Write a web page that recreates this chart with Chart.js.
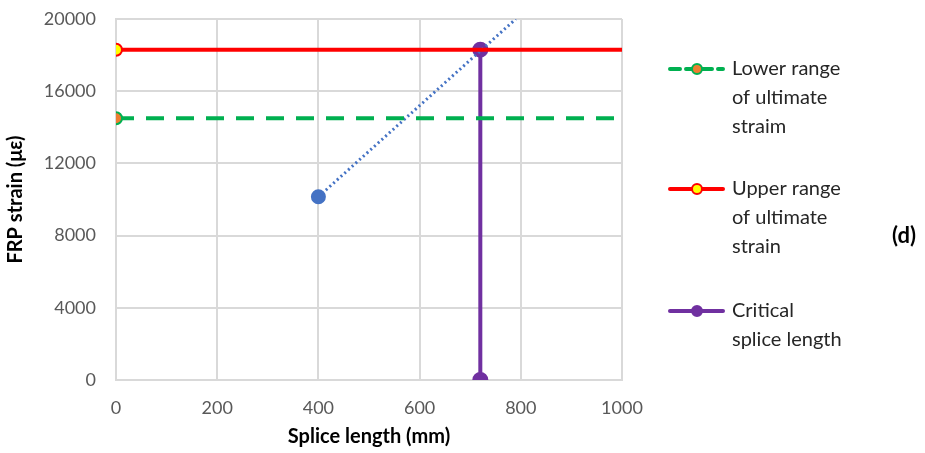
<!DOCTYPE html>
<html>
<head>
<meta charset="utf-8">
<script src="https://cdn.jsdelivr.net/npm/chart.js@4"></script>
<style>
  html, body { margin: 0; padding: 0; background: #fff; }
  #wrap { width: 925px; height: 453px; position: relative; }
</style>
</head>
<body>
<div id="wrap"><canvas id="chart" width="925" height="453"></canvas></div>
<script>
// values
const xTicks = [0, 200, 400, 600, 800, 1000];
const yTicks = [0, 4000, 8000, 12000, 16000, 20000];

const lowerStrain = [{ x: 0, y: 14500 }, { x: 1000, y: 14500 }];
const upperStrain = [{ x: 0, y: 18300 }, { x: 1000, y: 18300 }];
const critical = [{ x: 720, y: 0 }, { x: 720, y: 18300 }];
const trend = [{ x: 400, y: 10150 }, { x: 790, y: 20000 }];

const legendItems = [
  { lines: ['Lower range', 'of ultimate', 'straim'], color: '#00B050', fill: '#ED7D31', dash: [10, 6], y: 69 },
  { lines: ['Upper range', 'of ultimate', 'strain'], color: '#FF0000', fill: '#FFFF00', dash: [], y: 189 },
  { lines: ['Critical', 'splice length'], color: '#7030A0', fill: '#7030A0', dash: [], y: 311 }
];

const FONT = 'Lato, "Open Sans", sans-serif';

// legend on the right, drawn on the canvas
const sideLegend = {
  id: 'sideLegend',
  afterDraw(chart) {
    const ctx = chart.ctx;
    ctx.save();
    legendItems.forEach(item => {
      ctx.strokeStyle = item.color;
      ctx.lineWidth = 4;
      ctx.lineCap = 'round';
      ctx.setLineDash(item.dash);
      ctx.beginPath();
      ctx.moveTo(670, item.y);
      ctx.lineTo(723, item.y);
      ctx.stroke();
      ctx.setLineDash([]);
      ctx.beginPath();
      ctx.arc(697, item.y, 5, 0, Math.PI * 2);
      ctx.fillStyle = item.fill;
      ctx.fill();
      ctx.lineWidth = 2;
      ctx.stroke();
      ctx.fillStyle = '#262626';
      ctx.font = '20px ' + FONT;
      ctx.textBaseline = 'middle';
      ctx.textAlign = 'left';
      item.lines.forEach((t, i) => ctx.fillText(t, 732, item.y + i * 29));
    });
    ctx.font = 'bold 22px ' + FONT;
    ctx.fillStyle = '#000';
    ctx.fillText('(d)', 892, 236);
    ctx.restore();
  }
};

new Chart(document.getElementById('chart'), {
  type: 'scatter',
  data: {
    datasets: [
      {
        label: 'Lower range of ultimate straim',
        data: lowerStrain,
        showLine: true,
        borderColor: '#00B050',
        borderWidth: 4,
        borderDash: [18, 12],
        pointRadius: [6, 0],
        pointBackgroundColor: '#ED7D31',
        pointBorderColor: '#00B050',
        pointBorderWidth: 2
      },
      {
        label: 'Upper range of ultimate strain',
        data: upperStrain,
        showLine: true,
        borderColor: '#FF0000',
        borderWidth: 4,
        pointRadius: [6, 0],
        pointBackgroundColor: '#FFFF00',
        pointBorderColor: '#FF0000',
        pointBorderWidth: 2
      },
      {
        label: 'Trend',
        data: trend,
        showLine: true,
        borderColor: '#4472C4',
        borderWidth: 3,
        borderDash: [2, 3],
        pointRadius: [6, 0],
        pointBackgroundColor: '#4472C4',
        pointBorderColor: '#4472C4'
      },
      {
        label: 'Critical splice length',
        data: critical,
        showLine: true,
        borderColor: '#7030A0',
        borderWidth: 4,
        pointRadius: 6,
        pointBackgroundColor: '#7030A0',
        pointBorderColor: '#7030A0'
      }
    ]
  },
  options: {
    responsive: false,
    animation: false,
    layout: { padding: { top: 19, right: 303, left: 0, bottom: 0 } },
    plugins: {
      legend: { display: false },
      tooltip: { enabled: false }
    },
    scales: {
      x: {
        type: 'linear',
        min: 0,
        max: 1000,
        afterBuildTicks: s => { s.ticks = xTicks.map(v => ({ value: v })); },
        afterFit: s => { s.height = 73; },
        grid: { color: '#D9D9D9', lineWidth: 2, drawTicks: false },
        border: { color: '#D9D9D9', width: 2 },
        ticks: { color: '#595959', font: { family: FONT, size: 18 }, padding: 17, callback: v => String(v) },
        title: { display: true, text: 'Splice length (mm)', color: '#000', font: { family: FONT, size: 20, weight: 'bold' }, padding: { top: 0 } }
      },
      y: {
        min: 0,
        max: 20000,
        afterBuildTicks: s => { s.ticks = yTicks.map(v => ({ value: v })); },
        afterFit: s => { s.width = 116; s.paddingTop = 0; s.paddingBottom = 0; },
        grid: { color: '#D9D9D9', lineWidth: 2, drawTicks: false },
        border: { color: '#D9D9D9', width: 2 },
        ticks: { color: '#595959', font: { family: FONT, size: 18 }, padding: 20, callback: v => String(v) },
        title: { display: true, text: 'FRP strain (\u03bc\u03b5)', color: '#000', font: { family: FONT, size: 20, weight: 'bold' }, padding: { bottom: 2 } }
      }
    }
  },
  plugins: [sideLegend]
});
</script>
</body>
</html>
